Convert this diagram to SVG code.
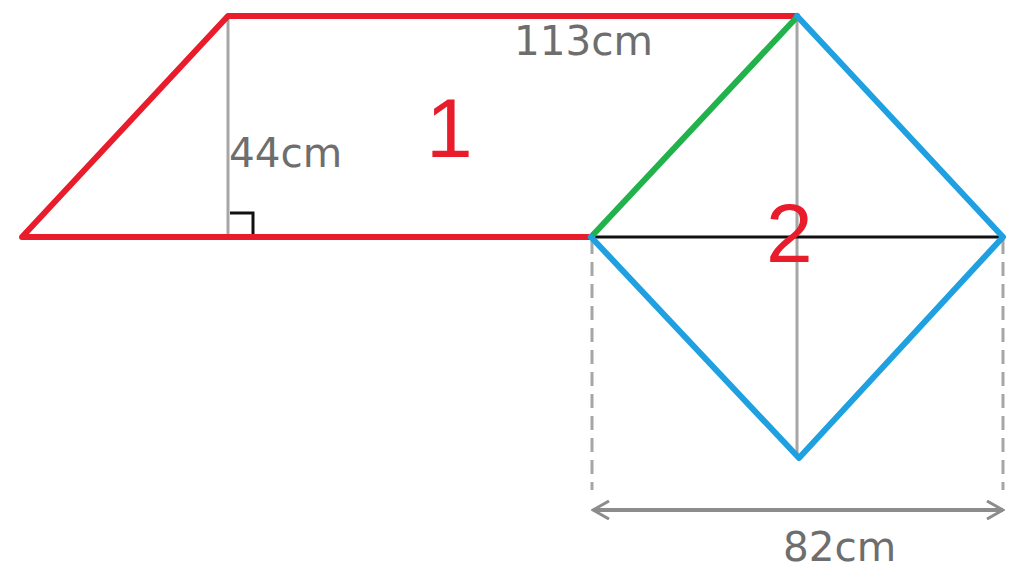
<svg xmlns="http://www.w3.org/2000/svg" width="1024" height="585" viewBox="0 0 1024 585">
<style>
.g{stroke:#a6a6a6;stroke-width:3;fill:none}
.d{stroke:#a6a6a6;stroke-width:3;fill:none;stroke-dasharray:14 8}
.r{stroke:#e81c2a;stroke-width:6;fill:none;stroke-linejoin:round;stroke-linecap:round}
.b{stroke:#1ea0e1;stroke-width:6;fill:none;stroke-linejoin:round;stroke-linecap:round}
.gr{stroke:#22b24c;stroke-width:6;fill:none;stroke-linecap:round}
.t{font-family:"DejaVu Sans","Liberation Sans",sans-serif;fill:#6e6e6e;font-size:40.5px}
.n{font-family:"Liberation Sans",Arial,sans-serif;fill:#e81c2a;font-size:84px}
</style>
<defs>
<marker id="ah" markerWidth="20" markerHeight="20" refX="18" refY="10" orient="auto-start-reverse" markerUnits="userSpaceOnUse">
<path d="M2,1 L18,10 L2,19" fill="none" stroke="#8c8c8c" stroke-width="3"/>
</marker>
</defs>
<g id="guides">
<line class="g" x1="228" y1="18" x2="228" y2="236"/>
<line class="g" x1="797" y1="18" x2="797" y2="456"/>
<line class="d" x1="592" y1="240" x2="592" y2="490"/>
<line class="d" x1="1003" y1="240" x2="1003" y2="490"/>
<path d="M230,213 H253 V236" stroke="#111" stroke-width="3" fill="none"/>
</g>
<g id="connectors">
<line x1="593" y1="510" x2="1003" y2="510" stroke="#8c8c8c" stroke-width="4" marker-start="url(#ah)" marker-end="url(#ah)"/>
</g>
<g id="shape1">
<path class="r" d="M591,237 H22 L228,16 H797"/>
</g>
<g id="shape2">
<line x1="591" y1="237" x2="1003" y2="237" stroke="#111" stroke-width="3"/>
<line class="gr" x1="591" y1="237" x2="797" y2="17"/>
<path class="b" d="M797,16 L1003,237 L799,458 L591,237"/>
</g>
<g id="labels">
<text class="t" x="514" y="55">113cm</text>
<text class="t" x="229" y="167">44cm</text>
<text class="t" x="783" y="561">82cm</text>
<text class="n" x="426" y="157">1</text>
<text class="n" x="766" y="262">2</text>
</g>
</svg>
